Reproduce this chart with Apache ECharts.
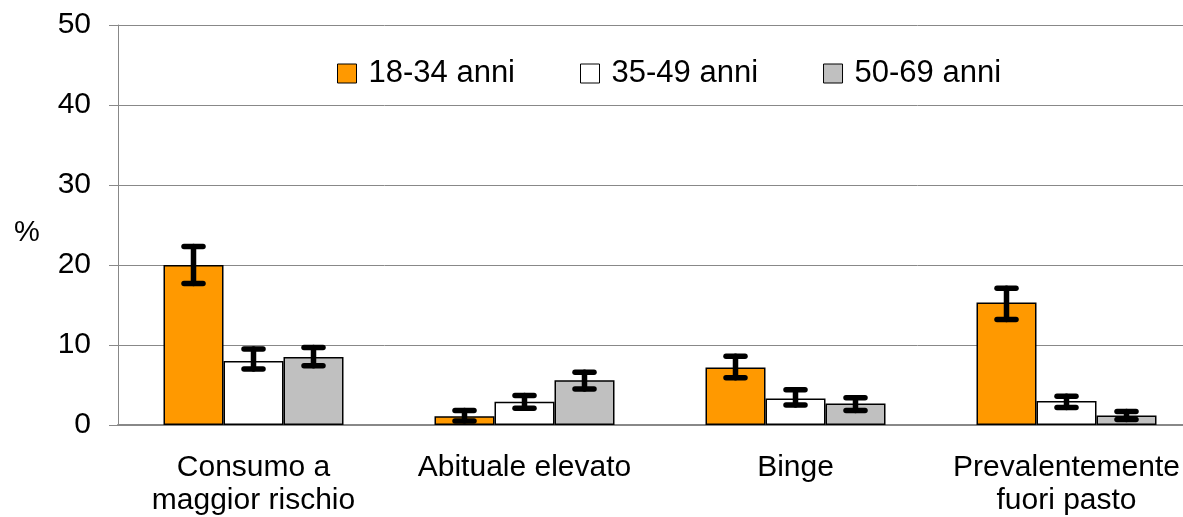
<!DOCTYPE html>
<html><head><meta charset="utf-8">
<script src="https://cdn.jsdelivr.net/npm/echarts@6/dist/echarts.min.js"></script>
<style>html,body{margin:0;padding:0;background:#fff}#c{width:1183px;height:517px}</style>
</head><body><div id="c"></div>
<script>
const categories = ['Consumo a\nmaggior rischio', 'Abituale elevato', 'Binge', 'Prevalentemente\nfuori pasto'];
const seriesNames = ['18-34 anni', '35-49 anni', '50-69 anni'];
const v1834 = [20.0, 1.1, 7.2, 15.3];
const lo1834 = [17.7, 0.5, 5.9, 13.2];
const hi1834 = [22.3, 1.8, 8.6, 17.1];
const v3549 = [8.0, 2.9, 3.3, 3.0];
const lo3549 = [7.0, 2.1, 2.5, 2.2];
const hi3549 = [9.5, 3.7, 4.4, 3.6];
const v5069 = [8.5, 5.6, 2.7, 1.2];
const lo5069 = [7.4, 4.5, 1.8, 0.7];
const hi5069 = [9.7, 6.6, 3.4, 1.7];
const yTicks = [0, 10, 20, 30, 40, 50];

const colors = ['#FF9900', '#FFFFFF', '#C0C0C0'];
const values = [v1834, v3549, v5069];
const lows = [lo1834, lo3549, lo5069];
const highs = [hi1834, hi3549, hi5069];
const BW = 60;
const FONT = 'Liberation Sans, Arial, sans-serif';

const series = [];
seriesNames.forEach((n, i) => {
  series.push({
    name: n, type: 'bar', data: values[i], barWidth: BW, barGap: '0%',
    itemStyle: { color: colors[i], borderColor: '#000', borderWidth: 1.5 }
  });
});
seriesNames.forEach((n, i) => {
  series.push({
    type: 'custom', coordinateSystem: 'cartesian2d', z: 10,
    data: categories.map((c, k) => [k, lows[i][k], highs[i][k]]),
    renderItem: function (params, api) {
      const off = (i - 1) * BW;
      const pLo = api.coord([api.value(0), api.value(1)]);
      const pHi = api.coord([api.value(0), api.value(2)]);
      const x = pLo[0] + off;
      const cap = 9.5;
      const st = { stroke: '#000', lineWidth: 5.5, lineCap: 'round' };
      return { type: 'group', children: [
        { type: 'line', shape: { x1: x, y1: pLo[1], x2: x, y2: pHi[1] }, style: st },
        { type: 'line', shape: { x1: x - cap, y1: pLo[1], x2: x + cap, y2: pLo[1] }, style: st },
        { type: 'line', shape: { x1: x - cap, y1: pHi[1], x2: x + cap, y2: pHi[1] }, style: st }
      ]};
    }
  });
});

const chart = echarts.init(document.getElementById('c'), null, { renderer: 'canvas' });
chart.setOption({
  animation: false,
  backgroundColor: '#fff',
  grid: { left: 118, top: 25, height: 400, width: 1084, containLabel: false, outerBoundsMode: 'none' },
  legend: {
    data: seriesNames.map((n, i) => ({ name: n, itemStyle: { color: colors[i], borderColor: '#000', borderWidth: 1 } })),
    left: 337, top: 58, padding: 0, icon: 'rect', itemWidth: 19, itemHeight: 19, itemGap: 65,
    textStyle: { fontFamily: FONT, fontSize: 31, color: '#000', padding: [0, 0, 0, 7] }
  },
  xAxis: {
    type: 'category', data: categories,
    axisLine: { lineStyle: { color: '#888', width: 2 } },
    axisTick: { show: false },
    axisLabel: { fontFamily: FONT, fontSize: 30, color: '#000', margin: 26, lineHeight: 33, interval: 0 }
  },
  yAxis: {
    type: 'value', min: yTicks[0], max: yTicks[yTicks.length - 1], interval: 10,
    axisLine: { show: true, lineStyle: { color: '#888', width: 1 } },
    axisTick: { show: true, length: 9, lineStyle: { color: '#888' } },
    splitLine: { lineStyle: { color: '#888', width: 1 } },
    axisLabel: { fontFamily: FONT, fontSize: 30, color: '#000', margin: 27 }
  },
  graphic: [{ type: 'text', left: 14, top: 218, style: { text: '%', font: '29px ' + FONT, fill: '#000' } }],
  series: series
});
</script></body></html>
